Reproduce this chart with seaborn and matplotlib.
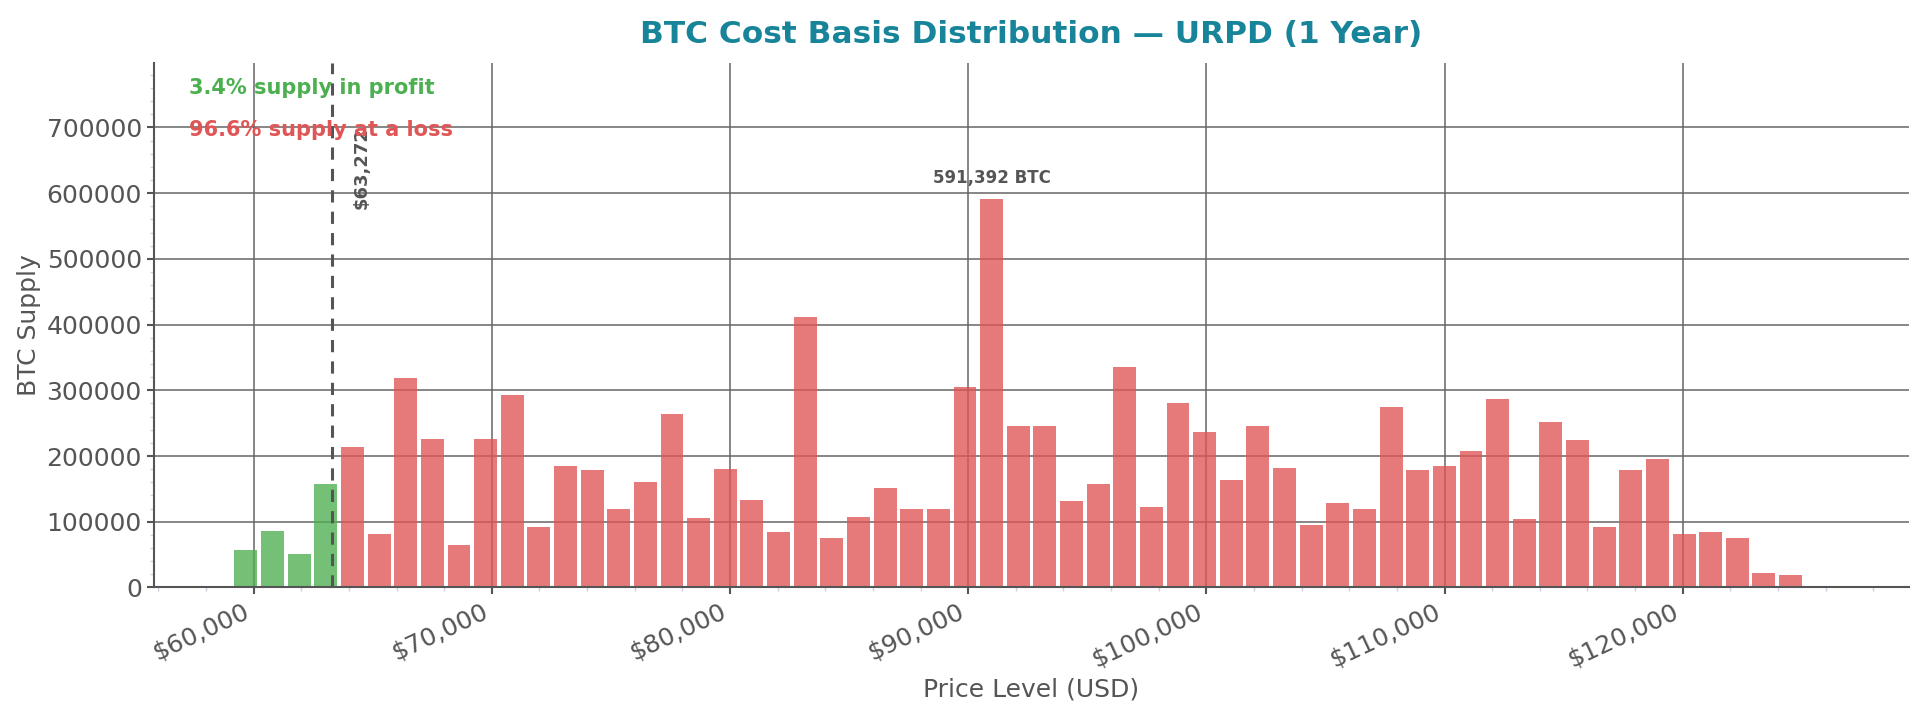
import numpy as np
import pandas as pd

import matplotlib as mpl
mpl.use("Agg")
import matplotlib.pyplot as plt
from matplotlib.ticker import MultipleLocator, StrMethodFormatter

import seaborn as sns

# price bins (USD, bin centres) and BTC supply per bin
bin_centers = [
    59674, 60792, 61910, 63029, 64147, 65265, 66383, 67501, 68620, 69738,
    70856, 71974, 73092, 74211, 75329, 76447, 77565, 78683, 79802, 80920,
    82038, 83156, 84274, 85393, 86511, 87629, 88747, 89865, 90984, 92102,
    93220, 94338, 95456, 96575, 97693, 98811, 99929, 101047, 102166, 103284,
    104402, 105520, 106638, 107757, 108875, 109993, 111111, 112229, 113348, 114466,
    115584, 116702, 117820, 118939, 120057, 121175, 122293, 123411, 124530,
]
supply = [
    57000, 85400, 50600, 158000, 214000, 81000, 319000, 226500, 64000, 226500,
    293000, 91500, 185500, 178000, 119000, 161000, 264000, 105000, 181000, 132500,
    84000, 411500, 75000, 107000, 152000, 120000, 120000, 305000, 591392, 245000,
    246000, 131000, 158000, 336000, 123000, 280000, 237000, 163000, 246000, 182500,
    94500, 128000, 119000, 275000, 179500, 185500, 208000, 287000, 103600, 252000,
    225000, 91500, 179500, 196000, 81000, 84000, 75000, 21700, 18700,
]
current_price = 63272

GREEN = "#4caf50"
RED = "#e05555"
GREY = "#555555"

df = pd.DataFrame({"price": bin_centers, "supply": supply})
df["status"] = np.where(df["price"] <= current_price, "profit", "loss")

in_profit = df.loc[df["status"] == "profit", "supply"].sum() / df["supply"].sum() * 100
at_loss = 100 - in_profit

sns.set_style("ticks")
plt.rcParams["font.family"] = ["DejaVu Sans"]

fig = plt.figure(figsize=(19.23, 7.19), dpi=100)
ax = fig.add_axes([0.0799, 0.1829, 0.9128, 0.7299])

sns.barplot(data=df, x="price", y="supply", hue="status",
            palette={"profit": GREEN, "loss": RED}, native_scale=True,
            width=0.86, alpha=0.78, saturation=1, linewidth=0,
            legend=False, ax=ax)

ax.axvline(current_price, color=GREY, ls="--", lw=2.2, dashes=(4, 3), zorder=3)
ax.text(current_price + 900, 700000, f"${current_price:,}", rotation=90,
        ha="left", va="top", fontsize=13, fontweight="bold", color=GREY)

peak = df.loc[df["supply"].idxmax()]
ax.text(peak["price"], peak["supply"] * 1.03, f"{int(peak['supply']):,} BTC",
        ha="center", va="bottom", fontsize=12, fontweight="bold", color=GREY)

ax.text(0.02, 0.97, f"{in_profit:.1f}% supply in profit", transform=ax.transAxes,
        ha="left", va="top", fontsize=15, fontweight="bold", color=GREEN)
ax.text(0.02, 0.89, f"{at_loss:.1f}% supply at a loss", transform=ax.transAxes,
        ha="left", va="top", fontsize=15, fontweight="bold", color=RED)

ax.set_xlim(55800, 129500)
ax.set_ylim(0, max(supply) * 1.35)

ax.xaxis.set_major_locator(MultipleLocator(10000))
ax.xaxis.set_minor_locator(MultipleLocator(2000))
ax.xaxis.set_major_formatter(StrMethodFormatter("${x:,.0f}"))
ax.yaxis.set_major_locator(MultipleLocator(100000))
ax.yaxis.set_minor_locator(MultipleLocator(20000))
ax.ticklabel_format(style="plain", axis="y")

ax.grid(which="major", color="#666666", lw=1.1)
ax.set_axisbelow(True)
ax.tick_params(which="major", labelsize=18, colors=GREY, length=5, width=1.5)
ax.tick_params(which="minor", color="#d0d0e4", length=3, width=1)
plt.setp(ax.get_xticklabels(), rotation=25, ha="right")

for side in ["top", "right"]:
    ax.spines[side].set_visible(False)
for side in ["left", "bottom"]:
    ax.spines[side].set_color(GREY)
    ax.spines[side].set_linewidth(1.5)

ax.set_xlabel("Price Level (USD)", fontsize=18, color=GREY)
ax.set_ylabel("BTC Supply", fontsize=18, color=GREY)
ax.set_title("BTC Cost Basis Distribution — URPD (1 Year)", fontsize=22.5,
             fontweight="bold", color="#17849a", pad=14)

fig.savefig("out.png", dpi=100)
